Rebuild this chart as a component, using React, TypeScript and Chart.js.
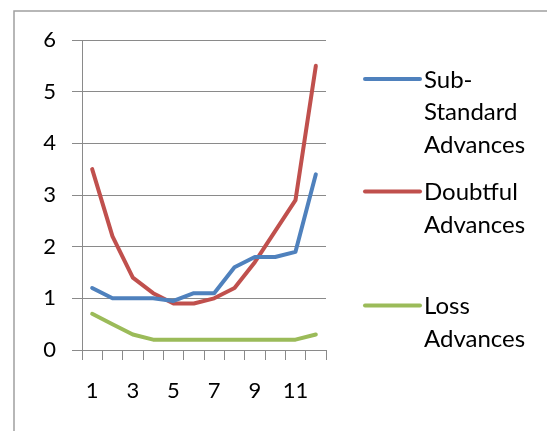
import React, { useEffect, useRef } from "react";
import { Chart, registerables } from "chart.js";

Chart.register(...registerables);

const categories = ["1", "2", "3", "4", "5", "6", "7", "8", "9", "10", "11", "12"];
const subStandard = [1.2, 1.0, 1.0, 1.0, 0.95, 1.1, 1.1, 1.6, 1.8, 1.8, 1.9, 3.4];
const doubtful = [3.5, 2.2, 1.4, 1.1, 0.9, 0.9, 1.0, 1.2, 1.7, 2.3, 2.9, 5.5];
const loss = [0.7, 0.5, 0.3, 0.2, 0.2, 0.2, 0.2, 0.2, 0.2, 0.2, 0.2, 0.3];
const seriesNames = ["Sub-Standard Advances", "Doubtful Advances", "Loss Advances"];
const legendLines = [["Sub-", "Standard", "Advances"], ["Doubtful", "Advances"], ["Loss", "Advances"]];
const seriesColors = ["#4f81bd", "#c0504d", "#9bbb59"];
const yMin = 0;
const yMax = 6;
const yStep = 1;

const FONT_FAMILY = "Lato, 'Noto Sans', sans-serif";
const TICK_SIZE = 22;
const LEGEND_SIZE = 24;
const GRID = "#8a8a8a";

const overlay = {
  id: "overlay",
  beforeDraw(chart: any) {
    const ctx = chart.ctx;
    ctx.save();
    ctx.fillStyle = "#ffffff";
    ctx.fillRect(0, 0, chart.width, chart.height);
    ctx.strokeStyle = "#a0a0a0";
    ctx.lineWidth = 1.5;
    ctx.beginPath();
    ctx.moveTo(14, chart.height + 2);
    ctx.lineTo(14, 11);
    ctx.lineTo(chart.width + 2, 11);
    ctx.stroke();
    ctx.restore();
  },
  afterDraw(chart: any) {
    const ctx = chart.ctx;
    const area = chart.chartArea;
    const itemY = [79, 191.5, 305.5];
    const lineGap = 32.5;
    const x0 = area.right + 39;
    ctx.save();
    ctx.font = `${LEGEND_SIZE}px ${FONT_FAMILY}`;
    ctx.textBaseline = "middle";
    ctx.textAlign = "left";
    chart.data.datasets.forEach((ds: any, i: number) => {
      const y = itemY[i];
      ctx.strokeStyle = ds.borderColor;
      ctx.lineWidth = 4;
      ctx.lineCap = "round";
      ctx.beginPath();
      ctx.moveTo(x0, y);
      ctx.lineTo(x0 + 55, y);
      ctx.stroke();
      ctx.fillStyle = "#000000";
      legendLines[i].forEach((t, j) => {
        ctx.fillText(t, x0 + 59, y + j * lineGap + 1);
      });
    });
    ctx.restore();
  },
};

export default function App() {
  const ref = useRef<HTMLCanvasElement | null>(null);

  useEffect(() => {
    if (!ref.current) return;
    const font = { family: FONT_FAMILY, size: TICK_SIZE };
    const series = [subStandard, doubtful, loss];
    const chart = new Chart(ref.current, {
      type: "line",
      data: {
        labels: categories,
        datasets: series.map((d, i) => ({
          label: seriesNames[i],
          data: d,
          borderColor: seriesColors[i],
          backgroundColor: seriesColors[i],
          borderWidth: 4,
          pointRadius: 0,
          tension: 0,
          borderCapStyle: "round" as const,
          borderJoinStyle: "round" as const,
          fill: false,
        })),
      },
      options: {
        responsive: false,
        animation: false,
        layout: { padding: { left: 0, top: 40, right: 221, bottom: 0 } },
        plugins: {
          legend: { display: false },
          tooltip: { enabled: false },
        },
        scales: {
          x: {
            type: "category",
            offset: true,
            grid: {
              offset: true,
              drawOnChartArea: false,
              drawTicks: true,
              tickLength: 10,
              color: GRID,
            },
            border: { color: GRID },
            ticks: {
              autoSkip: false,
              maxRotation: 0,
              padding: 18,
              font,
              color: "#000000",
              callback: (_v: any, i: number) => (i % 2 === 0 ? categories[i] : ""),
            },
            afterFit: (s: any) => {
              s.height = 81;
            },
          },
          y: {
            min: yMin,
            max: yMax,
            ticks: { stepSize: yStep, padding: 16, font, color: "#000000" },
            grid: { color: GRID, tickLength: 10 },
            border: { color: GRID },
            afterFit: (s: any) => {
              s.width = 82;
            },
          },
        },
      },
      plugins: [overlay],
    });
    return () => chart.destroy();
  }, []);

  return (
    <div style={{ position: "absolute", left: 0, top: 0, width: 547, height: 431 }}>
      <canvas ref={ref} width={547} height={431} style={{ display: "block" }} />
    </div>
  );
}
